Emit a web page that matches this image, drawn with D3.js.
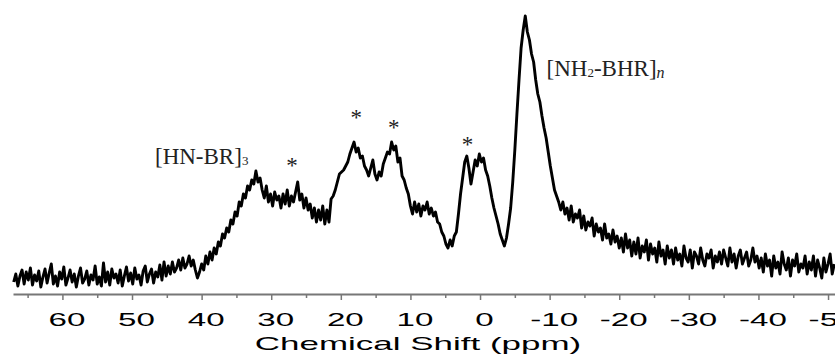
<!DOCTYPE html>
<html>
<head>
<meta charset="utf-8">
<script src="https://cdn.jsdelivr.net/npm/d3@7"></script>
<style>
body { margin: 0; background: #fff; }
svg { display: block; }
</style>
</head>
<body>
<div id="chart"></div>
<script>
// spectrum sampled every 0.3 ppm, starting at 67 ppm (arbitrary intensity units)
var ppmStart = 67.0;
var ppmStep = -0.3;
var intensity = [
	// baseline 67 .. 45 ppm
	12, 20, 8, 18, 24, 10, 22, 14, 26, 9, 19, 13, 23, 7, 17, 25, 11, 21, 30, 10,
	18, 8, 22, 15, 27, 9, 16, 24, 12, 20, 7, 18, 26, 11, 15, 23, 9, 19, 14, 28,
	10, 17, 8, 31, 12, 22, 9, 25, 16, 20, 11, 24, 8, 18, 27, 13, 21, 10, 26, 15,
	19, 9, 23, 28, 12, 20, 25, 11, 22, 17, 29, 14, 32,
	18, 28, 20, 32, 22, 26, 34, 24, 36, 26, 30, 38, 28, 34, 24, 16, 22,
	// [HN-BR]3 rise
	30, 24, 38, 30, 42, 34, 46, 40, 52, 48, 60, 56, 66, 62, 74, 70, 82, 78, 92, 88,
	100, 96, 108, 104, 114, 110, 123, 112, 116,
	104, 96, 108, 92, 100, 88, 102, 94, 98, 86, 100, 90, 104, 88, 98, 92, 102, 112, 94, 100,
	86, 96, 84, 90, 76, 86, 72, 84, 74, 88, 70, 84, 72,
	// sidebands 18 / 12 ppm
	95, 98, 104, 112, 120, 122, 124, 128, 132, 140, 146, 152, 142, 146, 136, 138, 128, 124, 118, 126,
	134, 120, 114, 122, 118, 130, 136, 142, 140, 152, 144, 148, 132, 136, 118, 114, 106, 100,
	88, 80, 92, 82, 90, 78, 88, 84, 92, 80, 86, 78, 82, 72, 70,
	62, 58, 50, 46, 54, 48, 58, 62, 80, 100, 116, 132, 138, 126,
	110, 122, 134, 128, 140, 132, 136, 124, 118, 108, 96, 86, 78, 70, 60, 54, 48,
	// [NH2-BHR]n peak
	56, 70, 86, 112, 144, 180, 214, 246, 264, 278, 262, 254, 240, 232, 214, 200, 192, 178, 166, 156,
	142, 128, 116, 104, 98, 92, 84,
	92, 80, 86, 74, 88, 72, 80, 76, 84, 66, 78, 64, 72, 68, 76, 58, 70, 62, 66, 54,
	70, 56, 60, 50, 64, 52, 58, 46,
	// tail to -51 ppm
	56, 42, 60, 46, 54,
	38, 52, 40, 56, 36, 48, 42, 54, 34, 50, 40, 46, 32, 52, 38, 44, 30, 48, 36,
	44, 30, 46, 34, 40, 28, 48, 36, 32, 44, 26, 42, 38, 30, 46, 34, 28, 40, 36, 44, 26, 38, 32, 42,
	30, 44, 36, 28, 46, 32, 40, 26, 38, 44, 30, 36, 42, 28, 34, 46, 32, 38, 26,
	36, 22, 40, 28, 34, 18, 38, 26, 32, 20, 42, 30, 24, 36, 18, 34, 28, 40, 22, 30, 26, 38, 20, 32,
	24, 38, 18, 34, 26, 16, 36, 22, 30, 40, 20, 30
];

var majorTicks = [60, 50, 40, 30, 20, 10, 0, -10, -20, -30, -40, -50];
var minorTicks = [65, 55, 45, 35, 25, 15, 5, -5, -15, -25, -35, -45];

// spinning sideband markers
var starPpm = [27.0, 17.8, 12.4, 1.8];
var starLevel = [132, 180, 170, 153];

var width = 835, height = 354;
var textStretch = 1.84; // axis text in the figure is stretched sideways

var svg = d3.select("#chart").append("svg")
	.attr("width", width)
	.attr("height", height);

var x = d3.scaleLinear().domain([67.1, -51.0]).range([13, 835]);
var y = d3.scaleLinear().domain([0, 280]).range([294, 14]);

var points = intensity.map(function (v, i) {
	return [ppmStart + i * ppmStep, v];
});

// axis
var axisG = svg.append("g")
	.attr("transform", "translate(0,294)")
	.call(d3.axisBottom(x)
		.tickValues(majorTicks)
		.tickSize(6)
		.tickSizeOuter(0)
		.tickPadding(13)
		.tickFormat(function (d) { return String(d); }));
axisG.select(".domain").attr("stroke", "#777").attr("stroke-width", 2);
axisG.selectAll(".tick line").attr("stroke", "#777").attr("stroke-width", 1.5);
axisG.selectAll(".tick text")
	.attr("fill", "#000")
	.attr("font-family", "'Liberation Sans', Arial, sans-serif")
	.attr("font-size", 18)
	.attr("transform", "translate(4,0) scale(" + textStretch + ",1)");

var minorG = svg.append("g")
	.attr("transform", "translate(0,294)")
	.call(d3.axisBottom(x)
		.tickValues(minorTicks)
		.tickSize(4)
		.tickSizeOuter(0)
		.tickFormat(""));
minorG.select(".domain").remove();
minorG.selectAll(".tick line").attr("stroke", "#777").attr("stroke-width", 1.5);

svg.append("g")
	.attr("transform", "translate(418,349.5)")
	.append("text")
	.attr("text-anchor", "middle")
	.attr("transform", "scale(" + textStretch + ",1)")
	.attr("font-family", "'Liberation Sans', Arial, sans-serif")
	.attr("font-size", 19)
	.attr("fill", "#000")
	.text("Chemical Shift (ppm)");

// spectrum
var line = d3.line()
	.x(function (d) { return x(d[0]); })
	.y(function (d) { return y(d[1]); });

svg.append("path")
	.datum(points)
	.attr("d", line)
	.attr("fill", "none")
	.attr("stroke", "#000")
	.attr("stroke-width", 2.9)
	.attr("stroke-linejoin", "round");

// annotations
var serif = "'Liberation Serif', 'Times New Roman', serif";

var lab1 = svg.append("text")
	.attr("x", x(46.7))
	.attr("y", y(130))
	.attr("font-family", serif)
	.attr("font-size", 23)
	.attr("fill", "#222");
lab1.append("tspan").text("[HN-BR]");
lab1.append("tspan").attr("font-size", 13).attr("dy", 1).text("3");

var lab2 = svg.append("text")
	.attr("x", x(-9.56))
	.attr("y", y(218))
	.attr("font-family", serif)
	.attr("font-size", 23)
	.attr("fill", "#222");
lab2.append("tspan").text("[NH");
lab2.append("tspan").attr("font-size", 13).attr("dy", 1).text("2");
lab2.append("tspan").attr("dy", -1).text("-BHR]");
lab2.append("tspan").attr("font-size", 16).attr("font-style", "italic").attr("dy", 2).text("n");

svg.selectAll("text.star")
	.data(starPpm)
	.enter().append("text")
	.attr("class", "star")
	.attr("x", function (d) { return x(d); })
	.attr("y", function (d, i) { return y(starLevel[i]); })
	.attr("dy", "0.47em")
	.attr("text-anchor", "middle")
	.attr("font-family", serif)
	.attr("font-size", 23)
	.attr("fill", "#222")
	.text("*");
</script>
</body>
</html>
